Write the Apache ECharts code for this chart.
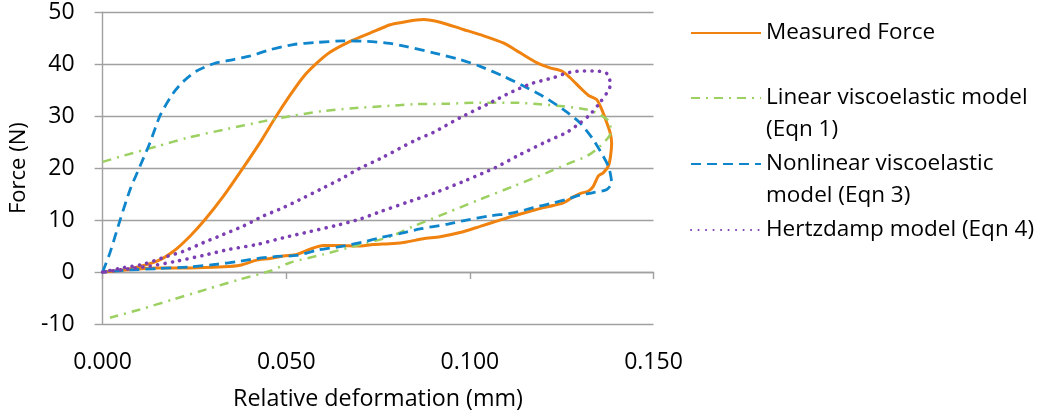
<!DOCTYPE html>
<html>
<head>
<meta charset="utf-8">
<script src="https://cdn.jsdelivr.net/npm/echarts@6/dist/echarts.min.js"></script>
<style>
html,body{margin:0;padding:0;background:#fff;}
#chart{width:1050px;height:416px;}
</style>
</head>
<body>
<div id="chart"></div>
<script>
// ---- data (relative deformation in mm, force in N) ----
const xTicks = [0, 0.05, 0.10, 0.15];
const yTicks = [-10, 0, 10, 20, 30, 40, 50];

const measuredForce = [
  [0,0],[0.0075,0.65],[0.0148,2.1],[0.0193,4.0],[0.0238,6.9],[0.0279,10.1],[0.0329,14.6],[0.0383,20.1],
  [0.0433,25.4],[0.047,29.7],[0.051,34.0],[0.0547,37.6],[0.0583,40.2],[0.0619,42.3],[0.0674,44.4],
  [0.0728,46.0],[0.0783,47.6],[0.081,48.0],[0.0873,48.6],[0.0919,48.1],[0.0982,46.7],[0.1028,45.7],
  [0.1091,44.1],[0.1137,42.2],[0.1182,40.3],[0.1218,39.3],[0.125,38.7],[0.1273,37.4],[0.13,35.5],
  [0.1323,34.0],[0.1345,33.2],[0.1359,31.3],[0.1373,28.7],[0.1382,26.8],[0.1386,24.9],[0.1383,22.3],
  [0.1377,20.4],[0.1363,19.1],[0.135,18.5],[0.1336,16.5],[0.1323,15.6],[0.13,15.1],[0.1282,14.5],
  [0.1254,13.3],[0.1227,12.8],[0.12,12.4],[0.1164,11.7],[0.1118,10.8],[0.1073,9.8],[0.1028,8.8],
  [0.0973,7.6],[0.0919,6.8],[0.0873,6.4],[0.0828,5.8],[0.0792,5.5],[0.0737,5.3],[0.0692,5.0],
  [0.0647,5.1],[0.0601,5.1],[0.0565,4.4],[0.0529,3.4],[0.0492,3.1],[0.0456,2.6],[0.042,2.3],
  [0.0374,1.3],[0.0329,1.0],[0.0238,0.8],[0.0148,0.8],[0.0057,0.4],[0,0]
];

const linearModel = [
  [0,21.2],[0.0057,22.4],[0.0148,24.2],[0.0229,25.8],[0.0329,27.4],[0.0437,29.0],[0.051,30.0],
  [0.0601,31.0],[0.0674,31.5],[0.0783,32.0],[0.0846,32.3],[0.0937,32.4],[0.1028,32.6],[0.1118,32.6],
  [0.1191,32.3],[0.1254,31.9],[0.1318,31.3],[0.1354,30.3],[0.1382,28.7],[0.1383,26.8],[0.1354,24.2],
  [0.1318,22.3],[0.1273,21.0],[0.1209,19.1],[0.1118,16.5],[0.1028,14.0],[0.0937,11.4],[0.0846,8.8],
  [0.0783,6.8],[0.0692,5.1],[0.0601,3.4],[0.051,1.8],[0.0456,0.2],[0.0374,-1.4],[0.0284,-3.3],
  [0.0193,-5.25],[0.0102,-7.2],[0.002,-8.8]
];

const nonlinearModel = [
  [0,0],[0.002,3.7],[0.0048,10.1],[0.0075,15.9],[0.0102,20.4],[0.0129,24.9],[0.0157,30.2],[0.0193,34.5],
  [0.022,36.7],[0.0256,38.7],[0.0302,40.1],[0.0356,40.9],[0.0402,41.6],[0.0456,42.8],[0.0519,43.8],
  [0.0583,44.2],[0.0656,44.5],[0.0719,44.4],[0.0783,44.0],[0.0828,43.4],[0.0901,42.2],
  [0.0973,40.9],[0.1028,39.6],[0.1091,37.7],[0.1146,35.8],[0.12,33.8],[0.1254,31.3],[0.13,28.7],
  [0.1336,25.5],[0.1363,22.3],[0.1377,20.4],[0.1382,19.1],[0.1386,17.2],[0.1373,15.9],[0.1336,15.3],
  [0.13,14.8],[0.1264,14.0],[0.1227,13.3],[0.1173,12.4],[0.1118,11.4],[0.1055,10.8],[0.0991,10.0],
  [0.0937,9.2],[0.0864,8.3],[0.081,7.4],[0.0755,6.6],[0.071,5.8],[0.0647,4.9],[0.0583,4.2],
  [0.0529,3.2],[0.0474,3.0],[0.042,2.6],[0.0365,2.0],[0.0311,1.5],[0.0238,1.0],[0.0148,0.65],
  [0.0075,0.4],[0,0]
];

const hertzdampModel = [
  [0,0],[0.0057,0.85],[0.0111,1.5],[0.0166,2.8],[0.022,4.0],[0.0274,5.65],[0.0329,7.25],[0.0383,8.85],
  [0.0438,10.8],[0.0492,12.4],[0.0547,14.3],[0.0601,16.2],[0.0656,18.2],[0.0701,20.0],[0.0755,21.8],
  [0.0855,25.5],[0.0901,26.9],[0.0973,29.7],[0.1046,32.25],[0.1118,34.8],[0.1173,36.4],[0.1227,37.4],
  [0.1264,38.3],[0.13,38.7],[0.1345,38.7],[0.1373,38.2],[0.1383,36.1],[0.1373,34.5],[0.1354,32.6],
  [0.1327,30.3],[0.13,28.7],[0.1264,26.9],[0.1205,25.0],[0.1128,22.3],[0.1069,20.1],[0.0991,17.7],
  [0.091,15.4],[0.0828,13.4],[0.0755,11.6],[0.0701,10.2],[0.0638,9.0],[0.0565,7.8],
  [0.0492,6.6],[0.042,5.3],[0.0347,4.4],[0.0274,3.2],[0.0202,2.1],[0.0129,1.15],
  [0.0057,0.5],[0,0]
];

const seriesNames = ['Measured Force','Linear viscoelastic model (Eqn 1)','Nonlinear viscoelastic model (Eqn 3)','Hertzdamp model (Eqn 4)'];
const legendLabels = ['Measured Force','\nLinear viscoelastic model\n(Eqn 1)','\nNonlinear viscoelastic\nmodel (Eqn 3)','Hertzdamp model (Eqn 4)'];
const xAxisTitle = 'Relative deformation (mm)';
const yAxisTitle = 'Force (N)';

// ---- styling ----
const FONT = '"Open Sans", sans-serif';
const TEXT = '#000000';
const GRID = '#a0a0a0';
const colors = ['#f0820f', '#9cd162', '#0f86cc', '#7c3fb3'];
const lineStyles = [
  {width: 3, type: 'solid'},
  {width: 2.5, type: [9, 6, 2, 6]},
  {width: 2.8, type: [10, 6]},
  {width: 3.6, type: [0.1, 7.4], cap: 'round'}
];
const seriesData = [measuredForce, linearModel, nonlinearModel, hertzdampModel];
const legendTops = [17, 50, 116, 214];

const chart = echarts.init(document.getElementById('chart'), null, {renderer: 'canvas'});

const legends = seriesNames.map((n, i) => ({
  data: [n],
  orient: 'vertical',
  left: 690,
  top: legendTops[i],
  padding: 0,
  itemWidth: 70,
  itemHeight: 14,
  selectedMode: false,
  itemStyle: {opacity: 0},
  formatter: () => legendLabels[i],
  textStyle: {fontFamily: FONT, fontSize: 22.5, color: TEXT, lineHeight: 32}
}));

chart.setOption({
  animation: false,
  color: colors,
  grid: {left: 102.5, right: 396.5, top: 12.3, bottom: 91.7, containLabel: false},
  legend: legends,
  xAxis: [
    {
      type: 'value', min: 0, max: 0.15, interval: 0.05, position: 'bottom',
      axisLine: {show: false, onZero: false}, axisTick: {show: false}, splitLine: {show: false},
      axisLabel: {margin: 27, fontFamily: FONT, fontSize: 23, color: TEXT, formatter: v => v.toFixed(3)},
      name: xAxisTitle, nameLocation: 'middle', nameGap: 64,
      nameTextStyle: {fontFamily: FONT, fontSize: 23.3, color: TEXT}
    },
    {
      type: 'value', min: 0, max: 0.15, interval: 0.05, position: 'bottom',
      axisLine: {show: true, onZero: true, lineStyle: {color: GRID, width: 1.4}},
      axisTick: {show: true, inside: false, length: 7, lineStyle: {color: GRID, width: 1.4}},
      axisLabel: {show: false}, splitLine: {show: false}
    }
  ],
  yAxis: {
    type: 'value', min: -10, max: 50, interval: 10,
    axisLine: {show: true, lineStyle: {color: GRID, width: 1.4}},
    axisTick: {show: true, length: 8, lineStyle: {color: GRID, width: 1.4}},
    splitLine: {show: true, lineStyle: {color: GRID, width: 1.4}},
    axisLabel: {margin: 28, fontFamily: FONT, fontSize: 23, color: TEXT, padding: [6, 0, 0, 0]},
    name: yAxisTitle, nameLocation: 'middle', nameGap: 67, nameRotate: 90,
    nameTextStyle: {fontFamily: FONT, fontSize: 22, color: TEXT}
  },
  series: seriesNames.map((n, i) => ({
    name: n, type: 'line', xAxisIndex: 1, data: seriesData[i],
    showSymbol: false, symbol: 'none', smooth: 0.25,
    lineStyle: Object.assign({color: colors[i]}, lineStyles[i]),
    itemStyle: {color: colors[i]},
    emphasis: {disabled: true}, z: 2 + i
  }))
});
</script>
</body>
</html>
